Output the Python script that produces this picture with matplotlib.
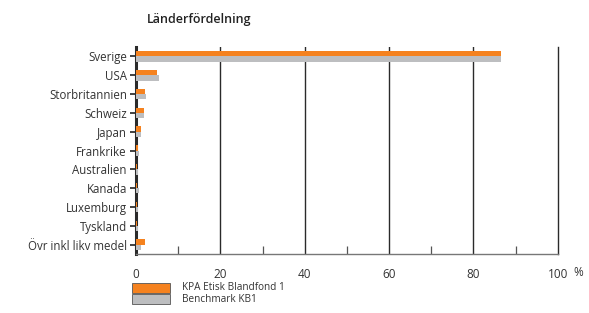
import numpy as np
import matplotlib.pyplot as plt
from matplotlib.patches import Rectangle

# Countries and allocation (%)
countries = ['Sverige', 'USA', 'Storbritannien', 'Schweiz', 'Japan', 'Frankrike',
             'Australien', 'Kanada', 'Luxemburg', 'Tyskland', 'Övr inkl likv medel']
fund = [86.5, 4.9, 2.1, 1.9, 1.2, 0.4, 0.3, 0.3, 0.3, 0.2, 2.1]
bench = [86.5, 5.5, 2.4, 1.9, 1.2, 0.7, 0.5, 0.6, 0.5, 0.5, 1.2]
xticks = [0, 20, 40, 60, 80, 100]
series_names = ['KPA Etisk Blandfond 1', 'Benchmark KB1']

orange = '#F5821F'
grey = '#BDBEC0'
txt = '#333333'

plt.rcParams['font.family'] = ['Open Sans', 'DejaVu Sans']

fig = plt.figure(figsize=(5.89, 3.13), dpi=100)
ax = fig.add_axes([0.2309, 0.1885, 0.716, 0.6613])

y = np.arange(len(countries))
h = 0.28
ax.barh(y - h/2, fund, height=h, color=orange, zorder=3)
ax.barh(y + h/2, bench, height=h, color=grey, zorder=3)

ax.set_ylim(len(countries) - 0.5, -0.5)
ax.set_xlim(0, 100)
ax.set_yticks(y)
ax.set_yticklabels(countries, fontsize=8.3, color=txt)
ax.set_xticks(xticks)
ax.set_xticklabels([str(v) for v in xticks], fontsize=8.5, color=txt)
ax.set_xticks(np.arange(10, 100, 20), minor=True)

# vertical grid lines at 20..80
for v in xticks[1:-1]:
    ax.axvline(v, color='#2a2a2a', lw=1.0, zorder=1)

ax.tick_params(axis='y', direction='out', length=4.5, width=1.3, color='#333333', pad=2)
ax.tick_params(axis='x', which='major', direction='in', length=0, pad=10)
ax.tick_params(axis='x', which='minor', direction='in', length=5.5, width=0.9, color='#555555')

ax.spines['top'].set_visible(False)
ax.spines['left'].set_linewidth(2.2)
ax.spines['left'].set_color('#2a2a2a')
ax.spines['right'].set_linewidth(1.0)
ax.spines['right'].set_color('#2a2a2a')
ax.spines['bottom'].set_linewidth(1.0)
ax.spines['bottom'].set_color('#777777')

fig.text(0.982, 0.13, '%', fontsize=8.5, color=txt, ha='center', va='center')
fig.text(0.249, 0.938, 'Länderfördelning', fontsize=9, color='#222222',
         ha='left', va='center', fontweight='semibold')

# legend below the chart
for i, (name, col) in enumerate(zip(series_names, [orange, grey])):
    yb = 0.064 - i * 0.036
    fig.patches.append(Rectangle((0.224, yb), 0.065, 0.032, transform=fig.transFigure,
                                 facecolor=col, edgecolor='#555555', lw=0.6))
    fig.text(0.309, yb + 0.016, name, fontsize=7.2, color=txt, ha='left', va='center')

fig.savefig('out.png', dpi=100)
